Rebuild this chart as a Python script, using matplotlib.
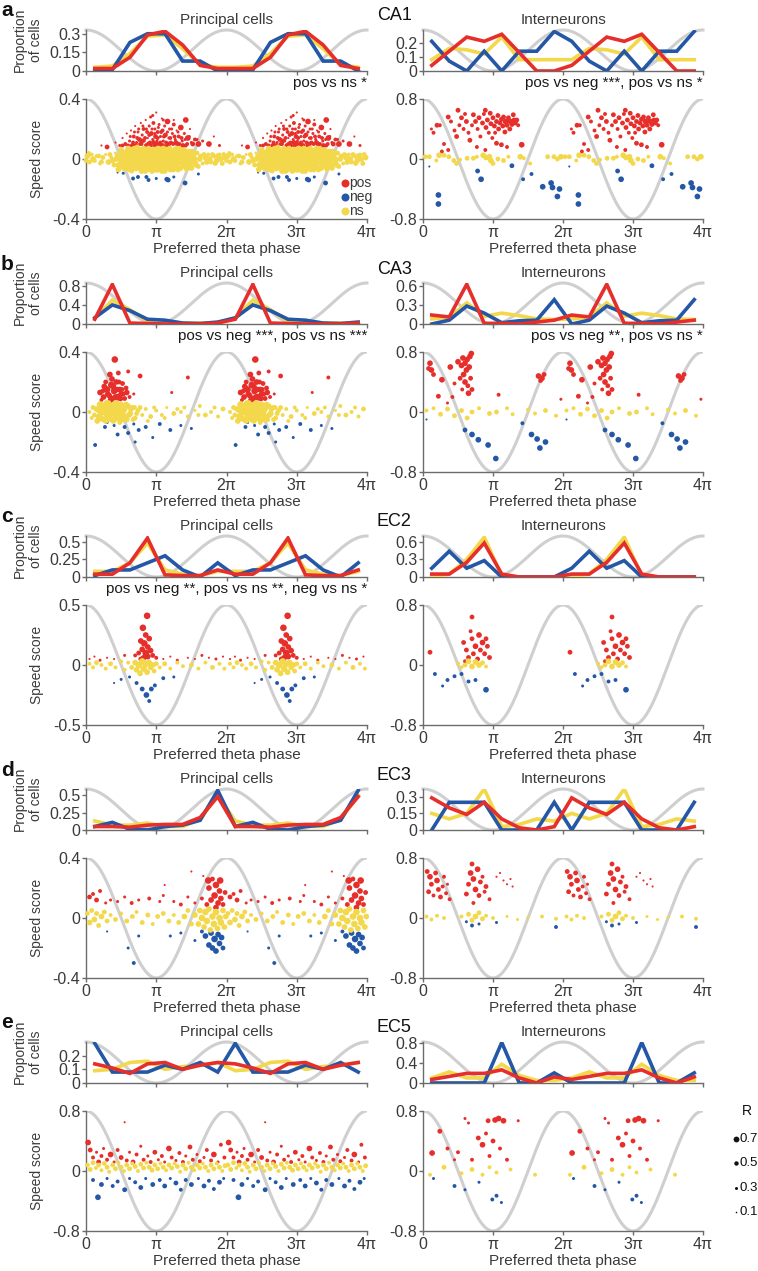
"""Speed score vs preferred theta phase, CA1/CA3/EC2/EC3/EC5, principal cells and interneurons."""

import numpy as np
import matplotlib

matplotlib.use("Agg")
import matplotlib.pyplot as plt

plt.rcParams["font.family"] = ["Liberation Sans", "DejaVu Sans"]

RED = "#e62e2b"
BLUE = "#2457a5"
YELLOW = "#f2d84a"
GRAY = "#cfcfcf"
AXIS = "#6b6b6b"
TEXT = "#3a3a3a"

W, H = 758, 1271
ROW_STEP = 253

# ---- proportion of cells per phase bin (8 bins, pi/4 wide, one theta cycle) ----
CA1_PC_POS = [0.02, 0.02, 0.11, 0.29, 0.32, 0.21, 0.045, 0.02]
CA1_PC_NEG = [0.0, 0.01, 0.23, 0.30, 0.30, 0.08, 0.08, 0.0]
CA1_PC_NS = [0.03, 0.04, 0.14, 0.28, 0.29, 0.18, 0.05, 0.03]
CA1_IN_POS = [0.04, 0.14, 0.24, 0.21, 0.26, 0.13, 0.0, 0.0]
CA1_IN_NEG = [0.21, 0.07, 0.0, 0.14, 0.0, 0.14, 0.14, 0.28]
CA1_IN_NS = [0.08, 0.16, 0.15, 0.12, 0.24, 0.08, 0.08, 0.08]
CA3_PC_POS = [0.1, 0.83, 0.02, 0.01, 0.0, 0.0, 0.0, 0.02]
CA3_PC_NEG = [0.13, 0.4, 0.28, 0.1, 0.08, 0.02, 0.01, 0.04]
CA3_PC_NS = [0.12, 0.5, 0.3, 0.06, 0.04, 0.02, 0.02, 0.03]
CA3_IN_POS = [0.14, 0.11, 0.62, 0.01, 0.01, 0.0, 0.03, 0.06]
CA3_IN_NEG = [0.0, 0.06, 0.28, 0.17, 0.02, 0.05, 0.06, 0.38]
CA3_IN_NS = [0.08, 0.1, 0.33, 0.12, 0.17, 0.13, 0.08, 0.07]
EC2_PC_POS = [0.04, 0.04, 0.2, 0.55, 0.03, 0.02, 0.02, 0.1]
EC2_PC_NEG = [0.02, 0.1, 0.1, 0.2, 0.3, 0.1, 0.0, 0.2]
EC2_PC_NS = [0.08, 0.08, 0.2, 0.48, 0.1, 0.04, 0.02, 0.08]
EC2_IN_POS = [0.05, 0.05, 0.25, 0.58, 0.05, 0.0, 0.0, 0.0]
EC2_IN_NEG = [0.15, 0.44, 0.15, 0.28, 0.0, 0.0, 0.0, 0.0]
EC2_IN_NS = [0.0, 0.05, 0.3, 0.68, 0.02, 0.0, 0.0, 0.0]
EC3_PC_POS = [0.05, 0.05, 0.04, 0.07, 0.08, 0.08, 0.18, 0.48]
EC3_PC_NEG = [0.05, 0.11, 0.01, 0.0, 0.05, 0.07, 0.14, 0.57]
EC3_PC_NS = [0.13, 0.07, 0.07, 0.1, 0.05, 0.05, 0.15, 0.5]
EC3_IN_POS = [0.29, 0.2, 0.14, 0.25, 0.1, 0.02, 0.0, 0.03]
EC3_IN_NEG = [0.0, 0.25, 0.25, 0.25, 0.0, 0.0, 0.0, 0.25]
EC3_IN_NS = [0.15, 0.1, 0.15, 0.37, 0.03, 0.05, 0.1, 0.08]
EC5_PC_POS = [0.14, 0.11, 0.07, 0.14, 0.15, 0.1, 0.13, 0.15]
EC5_PC_NEG = [0.29, 0.08, 0.08, 0.08, 0.13, 0.1, 0.15, 0.08]
EC5_PC_NS = [0.09, 0.1, 0.15, 0.16, 0.1, 0.12, 0.13, 0.15]
EC5_IN_POS = [0.07, 0.13, 0.19, 0.19, 0.26, 0.1, 0.0, 0.12]
EC5_IN_NEG = [0.0, 0.0, 0.0, 0.0, 0.8, 0.0, 0.0, 0.2]
EC5_IN_NS = [0.1, 0.22, 0.1, 0.1, 0.37, 0.15, 0.05, 0.05]

# ---- single cells: (preferred phase / pi, speed score, R), one theta cycle ----
CA1_PC_POS_CELLS = [
    (0.22, 0.09, 0.1), (0.3, 0.08, 0.4), (0.42, 0.11, 0.1), (0.48, 0.09, 0.2), (0.52, 0.14, 0.1),
    (0.52, 0.09, 0.3), (0.56, 0.1, 0.3), (0.58, 0.17, 0.1), (0.6, 0.09, 0.3), (0.62, 0.12, 0.2),
    (0.63, 0.15, 0.2), (0.64, 0.19, 0.1), (0.66, 0.09, 0.4), (0.67, 0.11, 0.3), (0.68, 0.15, 0.3),
    (0.69, 0.18, 0.2), (0.7, 0.22, 0.1), (0.71, 0.09, 0.4), (0.72, 0.11, 0.2), (0.73, 0.14, 0.3),
    (0.74, 0.18, 0.2), (0.75, 0.2, 0.2), (0.76, 0.13, 0.4), (0.77, 0.1, 0.3), (0.78, 0.24, 0.1),
    (0.79, 0.1, 0.3), (0.8, 0.16, 0.2), (0.8, 0.12, 0.4), (0.81, 0.22, 0.2), (0.82, 0.2, 0.3),
    (0.83, 0.12, 0.2), (0.84, 0.14, 0.3), (0.85, 0.26, 0.1), (0.86, 0.09, 0.4), (0.86, 0.2, 0.2),
    (0.87, 0.18, 0.3), (0.88, 0.14, 0.1), (0.89, 0.1, 0.4), (0.9, 0.22, 0.2), (0.9, 0.16, 0.3),
    (0.91, 0.11, 0.3), (0.92, 0.28, 0.2), (0.92, 0.09, 0.3), (0.93, 0.17, 0.4), (0.94, 0.2, 0.2),
    (0.95, 0.13, 0.2), (0.95, 0.29, 0.2), (0.96, 0.24, 0.3), (0.96, 0.11, 0.4), (0.97, 0.09, 0.3),
    (0.98, 0.2, 0.2), (0.98, 0.17, 0.2), (0.99, 0.15, 0.4), (1.0, 0.31, 0.1), (1.0, 0.1, 0.4),
    (1.01, 0.12, 0.2), (1.02, 0.18, 0.3), (1.02, 0.14, 0.3), (1.03, 0.21, 0.2), (1.04, 0.23, 0.2),
    (1.05, 0.1, 0.4), (1.06, 0.15, 0.2), (1.06, 0.11, 0.3), (1.07, 0.18, 0.3), (1.08, 0.27, 0.1),
    (1.09, 0.19, 0.3), (1.09, 0.09, 0.4), (1.1, 0.12, 0.2), (1.1, 0.26, 0.2), (1.11, 0.15, 0.3),
    (1.12, 0.22, 0.2), (1.13, 0.16, 0.4), (1.14, 0.11, 0.3), (1.15, 0.09, 0.3), (1.16, 0.25, 0.5),
    (1.16, 0.18, 0.2), (1.18, 0.14, 0.2), (1.18, 0.1, 0.4), (1.19, 0.2, 0.2), (1.2, 0.14, 0.3),
    (1.21, 0.11, 0.3), (1.22, 0.2, 0.2), (1.23, 0.17, 0.2), (1.24, 0.1, 0.3), (1.25, 0.23, 0.3),
    (1.25, 0.26, 0.1), (1.26, 0.15, 0.3), (1.27, 0.13, 0.2), (1.28, 0.11, 0.4), (1.29, 0.19, 0.1),
    (1.3, 0.1, 0.4), (1.31, 0.18, 0.2), (1.32, 0.15, 0.3), (1.33, 0.1, 0.3), (1.35, 0.21, 0.5),
    (1.36, 0.14, 0.3), (1.37, 0.12, 0.2), (1.38, 0.09, 0.4), (1.4, 0.17, 0.2), (1.41, 0.13, 0.2),
    (1.42, 0.09, 0.3), (1.42, 0.26, 0.5), (1.44, 0.1, 0.3), (1.45, 0.14, 0.5), (1.47, 0.15, 0.2),
    (1.48, 0.2, 0.1), (1.5, 0.11, 0.2), (1.52, 0.1, 0.4), (1.55, 0.13, 0.3), (1.58, 0.13, 0.2),
    (1.6, 0.1, 0.5), (1.66, 0.12, 0.2), (1.75, 0.1, 0.5), (1.82, 0.15, 0.1), (1.9, 0.09, 0.2),
]
CA1_PC_NEG_CELLS = [
    (0.45, -0.09, 0.1), (0.53, -0.095, 0.2), (0.67, -0.13, 0.3), (0.74, -0.12, 0.3), (0.86, -0.12, 0.3),
    (0.89, -0.14, 0.3), (1.0, -0.13, 0.2), (1.15, -0.135, 0.4), (1.17, -0.14, 0.4), (1.25, -0.12, 0.2),
    (1.41, -0.16, 0.4), (1.6, -0.1, 0.2),
]
CA1_PC_NS_CELLS = [
    (0.0, -0.01, 0.4), (0.02, 0.02, 0.5), (0.04, 0.04, 0.3), (0.05, -0.02, 0.4), (0.08, 0.03, 0.3),
    (0.1, 0.0, 0.5), (0.12, -0.01, 0.4), (0.15, 0.02, 0.3), (0.18, 0.02, 0.4), (0.2, -0.03, 0.3),
    (0.22, -0.02, 0.4), (0.24, 0.01, 0.4), (0.28, 0.03, 0.2), (0.32, -0.02, 0.5), (0.34, 0.03, 0.4),
    (0.36, 0.01, 0.3), (0.38, -0.01, 0.5), (0.4, -0.04, 0.4), (0.42, 0.04, 0.2), (0.43, 0.0, 0.5),
    (0.45, 0.02, 0.5), (0.46, -0.07, 0.5), (0.47, -0.04, 0.6), (0.49, 0.0, 0.6), (0.5, 0.06, 0.5),
    (0.51, 0.04, 0.6), (0.52, -0.01, 0.7), (0.53, -0.05, 0.6), (0.54, 0.04, 0.5), (0.55, -0.06, 0.6),
    (0.56, 0.03, 0.6), (0.57, -0.02, 0.6), (0.58, 0.01, 0.7), (0.59, 0.05, 0.6), (0.6, 0.07, 0.5),
    (0.61, -0.04, 0.6), (0.62, -0.07, 0.5), (0.63, 0.03, 0.7), (0.64, 0.0, 0.7), (0.65, -0.08, 0.4),
    (0.66, 0.06, 0.6), (0.67, 0.02, 0.6), (0.68, -0.02, 0.7), (0.69, 0.07, 0.5), (0.69, -0.05, 0.6),
    (0.7, 0.04, 0.6), (0.71, -0.06, 0.6), (0.72, 0.02, 0.7), (0.73, 0.08, 0.4), (0.74, 0.0, 0.7),
    (0.75, 0.06, 0.6), (0.76, -0.04, 0.6), (0.77, -0.01, 0.7), (0.78, 0.05, 0.6), (0.78, -0.06, 0.6),
    (0.79, -0.08, 0.5), (0.8, 0.02, 0.7), (0.81, -0.04, 0.7), (0.82, 0.07, 0.5), (0.83, -0.03, 0.7),
    (0.84, 0.01, 0.7), (0.84, -0.08, 0.5), (0.85, 0.04, 0.6), (0.86, -0.07, 0.6), (0.87, 0.05, 0.6),
    (0.88, 0.0, 0.7), (0.89, 0.07, 0.5), (0.9, -0.02, 0.7), (0.91, -0.04, 0.7), (0.92, 0.04, 0.6),
    (0.93, 0.02, 0.7), (0.93, -0.06, 0.6), (0.94, -0.08, 0.5), (0.95, 0.01, 0.7), (0.96, -0.01, 0.7),
    (0.97, 0.06, 0.6), (0.98, -0.03, 0.7), (0.99, 0.05, 0.6), (0.99, -0.06, 0.6), (1.0, 0.03, 0.7),
    (1.01, -0.07, 0.6), (1.02, 0.01, 0.7), (1.03, 0.07, 0.5), (1.04, -0.01, 0.7), (1.05, 0.06, 0.6),
    (1.05, -0.04, 0.7), (1.06, 0.04, 0.6), (1.07, -0.05, 0.7), (1.08, 0.02, 0.7), (1.08, -0.08, 0.5),
    (1.09, 0.01, 0.7), (1.1, 0.07, 0.5), (1.11, -0.01, 0.7), (1.12, -0.08, 0.5), (1.13, -0.02, 0.7),
    (1.14, 0.06, 0.6), (1.14, -0.06, 0.6), (1.15, 0.04, 0.7), (1.16, -0.05, 0.6), (1.17, 0.02, 0.7),
    (1.18, 0.01, 0.7), (1.19, 0.07, 0.5), (1.2, -0.07, 0.5), (1.2, 0.05, 0.6), (1.21, -0.03, 0.7),
    (1.22, 0.04, 0.6), (1.23, 0.0, 0.7), (1.24, -0.07, 0.5), (1.25, 0.0, 0.7), (1.26, 0.03, 0.7),
    (1.26, -0.05, 0.6), (1.27, 0.06, 0.6), (1.28, -0.04, 0.6), (1.29, 0.07, 0.5), (1.29, -0.01, 0.7),
    (1.3, 0.03, 0.7), (1.31, -0.07, 0.5), (1.32, -0.01, 0.6), (1.33, 0.07, 0.4), (1.34, 0.04, 0.7),
    (1.35, -0.06, 0.5), (1.36, -0.02, 0.7), (1.37, 0.02, 0.7), (1.38, 0.06, 0.5), (1.39, -0.03, 0.6),
    (1.4, 0.0, 0.7), (1.41, 0.05, 0.6), (1.42, -0.05, 0.5), (1.43, -0.07, 0.4), (1.44, 0.03, 0.6),
    (1.45, 0.0, 0.6), (1.46, -0.02, 0.6), (1.47, 0.05, 0.5), (1.48, 0.01, 0.6), (1.49, -0.04, 0.5),
    (1.5, -0.06, 0.5), (1.51, 0.05, 0.5), (1.52, 0.02, 0.6), (1.54, 0.0, 0.6), (1.55, -0.02, 0.5),
    (1.57, -0.04, 0.5), (1.58, 0.04, 0.4), (1.6, -0.05, 0.4), (1.62, 0.0, 0.5), (1.63, 0.02, 0.4),
    (1.66, -0.03, 0.3), (1.68, 0.03, 0.4), (1.7, 0.01, 0.5), (1.72, -0.02, 0.5), (1.74, 0.03, 0.3),
    (1.76, 0.0, 0.5), (1.78, -0.02, 0.4), (1.8, 0.03, 0.4), (1.82, 0.02, 0.4), (1.84, -0.03, 0.4),
    (1.86, -0.01, 0.5), (1.88, 0.02, 0.5), (1.9, 0.03, 0.3), (1.92, 0.0, 0.5), (1.94, -0.03, 0.4),
    (1.96, 0.03, 0.4), (1.98, 0.01, 0.5),
]
CA1_IN_POS_CELLS = [
    (0.12, 0.4, 0.2), (0.15, 0.35, 0.3), (0.2, 0.45, 0.4), (0.24, 0.45, 0.3), (0.27, 0.1, 0.3),
    (0.3, 0.2, 0.3), (0.36, 0.12, 0.3), (0.36, 0.56, 0.4), (0.4, 0.5, 0.3), (0.45, 0.38, 0.3),
    (0.48, 0.3, 0.4), (0.5, 0.65, 0.4), (0.52, 0.45, 0.3), (0.55, 0.55, 0.4), (0.58, 0.4, 0.3),
    (0.6, 0.6, 0.3), (0.62, 0.5, 0.4), (0.65, 0.35, 0.3), (0.67, 0.25, 0.4), (0.7, 0.45, 0.3),
    (0.72, 0.59, 0.4), (0.75, 0.5, 0.4), (0.77, 0.16, 0.3), (0.78, 0.4, 0.3), (0.8, 0.55, 0.4),
    (0.82, 0.3, 0.3), (0.85, 0.48, 0.4), (0.87, 0.6, 0.3), (0.89, 0.12, 0.3), (0.89, 0.65, 0.4),
    (0.9, 0.42, 0.4), (0.92, 0.52, 0.4), (0.94, 0.35, 0.3), (0.96, 0.61, 0.4), (0.97, 0.47, 0.4),
    (0.99, 0.28, 0.3), (1.0, 0.55, 0.4), (1.02, 0.44, 0.4), (1.03, 0.35, 0.3), (1.05, 0.21, 0.4),
    (1.05, 0.5, 0.4), (1.07, 0.58, 0.4), (1.08, 0.4, 0.4), (1.1, 0.48, 0.4), (1.12, 0.19, 0.4),
    (1.12, 0.53, 0.4), (1.14, 0.44, 0.4), (1.15, 0.56, 0.4), (1.17, 0.36, 0.4), (1.18, 0.5, 0.5),
    (1.2, 0.16, 0.3), (1.2, 0.45, 0.4), (1.22, 0.55, 0.4), (1.24, 0.4, 0.4), (1.25, 0.5, 0.5),
    (1.27, 0.46, 0.4), (1.29, 0.59, 0.4), (1.3, 0.52, 0.4), (1.32, 0.48, 0.4), (1.34, 0.52, 0.4),
    (1.36, 0.45, 0.3), (1.41, 0.19, 0.5),
]
CA1_IN_NEG_CELLS = [
    (0.09, -0.1, 0.1), (0.22, -0.48, 0.5), (0.22, -0.6, 0.5), (0.78, -0.16, 0.4), (0.83, -0.27, 0.5),
    (1.27, -0.09, 0.4), (1.43, -0.27, 0.3), (1.55, -0.2, 0.3), (1.71, -0.37, 0.5), (1.83, -0.32, 0.5),
    (1.85, -0.38, 0.5), (1.95, -0.4, 0.5), (1.92, -0.5, 0.5),
]
CA1_IN_NS_CELLS = [
    (0.03, 0.03, 0.4), (0.09, 0.03, 0.4), (0.19, -0.02, 0.3), (0.23, 0.05, 0.5), (0.3, 0.05, 0.4),
    (0.37, 0.03, 0.4), (0.44, -0.02, 0.4), (0.48, -0.06, 0.4), (0.53, -0.01, 0.3), (0.63, 0.01, 0.4),
    (0.72, 0.01, 0.4), (0.77, 0.03, 0.3), (0.86, 0.05, 0.5), (0.9, 0.02, 0.5), (0.95, 0.03, 0.5),
    (0.97, -0.02, 0.5), (1.0, -0.06, 0.4), (1.07, 0.0, 0.4), (1.15, -0.02, 0.4), (1.22, 0.03, 0.3),
    (1.39, 0.03, 0.5), (1.44, 0.01, 0.3), (1.53, -0.06, 0.3), (1.78, 0.03, 0.4), (1.87, 0.03, 0.4),
    (1.92, 0.0, 0.4), (1.97, 0.03, 0.5),
]
CA3_PC_POS_CELLS = [
    (0.2, 0.13, 0.5), (0.22, 0.08, 0.3), (0.24, 0.14, 0.4), (0.25, 0.1, 0.5), (0.26, 0.17, 0.5),
    (0.28, 0.2, 0.4), (0.3, 0.15, 0.6), (0.31, 0.12, 0.5), (0.33, 0.11, 0.5), (0.34, 0.25, 0.5),
    (0.35, 0.08, 0.5), (0.36, 0.18, 0.6), (0.37, 0.22, 0.5), (0.38, 0.09, 0.5), (0.39, 0.17, 0.5),
    (0.4, 0.14, 0.6), (0.41, 0.35, 0.6), (0.42, 0.1, 0.5), (0.43, 0.2, 0.5), (0.44, 0.15, 0.5),
    (0.45, 0.1, 0.6), (0.46, 0.26, 0.4), (0.47, 0.2, 0.4), (0.48, 0.15, 0.5), (0.49, 0.09, 0.5),
    (0.5, 0.12, 0.5), (0.51, 0.15, 0.4), (0.52, 0.19, 0.4), (0.53, 0.12, 0.4), (0.55, 0.09, 0.4),
    (0.57, 0.16, 0.4), (0.58, 0.13, 0.5), (0.6, 0.27, 0.3), (0.62, 0.1, 0.3), (0.68, 0.12, 0.2),
    (0.77, 0.24, 0.4), (1.22, 0.13, 0.2), (1.45, 0.23, 0.3),
]
CA3_PC_NEG_CELLS = [
    (0.13, -0.22, 0.3), (0.27, -0.1, 0.3), (0.3, -0.07, 0.2), (0.4, -0.09, 0.2), (0.45, -0.15, 0.3),
    (0.55, -0.1, 0.3), (0.6, -0.14, 0.3), (0.68, -0.08, 0.2), (0.7, -0.2, 0.2), (0.75, -0.12, 0.3),
    (0.85, -0.1, 0.3), (0.95, -0.17, 0.2), (1.05, -0.08, 0.3), (1.2, -0.12, 0.3), (1.35, -0.09, 0.2),
    (1.5, -0.11, 0.2),
]
CA3_PC_NS_CELLS = [
    (0.05, 0.0, 0.3), (0.08, -0.04, 0.3), (0.1, 0.03, 0.4), (0.12, -0.02, 0.4), (0.15, 0.02, 0.5),
    (0.16, -0.06, 0.5), (0.18, -0.03, 0.5), (0.19, 0.01, 0.6), (0.2, 0.05, 0.6), (0.21, -0.04, 0.6),
    (0.22, 0.0, 0.6), (0.23, 0.04, 0.6), (0.25, -0.05, 0.5), (0.26, 0.0, 0.6), (0.27, 0.03, 0.6),
    (0.28, -0.06, 0.5), (0.29, 0.06, 0.5), (0.3, -0.02, 0.6), (0.31, 0.02, 0.6), (0.32, 0.06, 0.5),
    (0.33, -0.04, 0.6), (0.34, 0.01, 0.6), (0.35, 0.04, 0.6), (0.36, -0.05, 0.5), (0.37, -0.01, 0.6),
    (0.38, 0.04, 0.6), (0.39, -0.06, 0.5), (0.4, -0.01, 0.6), (0.41, 0.02, 0.6), (0.42, 0.06, 0.5),
    (0.43, -0.03, 0.6), (0.44, -0.04, 0.6), (0.45, 0.05, 0.5), (0.46, 0.02, 0.6), (0.47, -0.01, 0.6),
    (0.48, -0.07, 0.4), (0.49, 0.03, 0.6), (0.5, 0.05, 0.5), (0.51, -0.05, 0.5), (0.52, -0.02, 0.6),
    (0.53, 0.01, 0.6), (0.55, 0.02, 0.5), (0.56, -0.03, 0.5), (0.57, 0.05, 0.5), (0.58, -0.05, 0.5),
    (0.6, 0.04, 0.5), (0.61, -0.02, 0.5), (0.63, -0.01, 0.5), (0.64, 0.02, 0.5), (0.66, 0.03, 0.4),
    (0.67, -0.05, 0.4), (0.69, 0.03, 0.4), (0.7, -0.04, 0.4), (0.72, -0.01, 0.4), (0.74, 0.01, 0.4),
    (0.77, 0.03, 0.4), (0.8, -0.02, 0.3), (0.85, 0.02, 0.3), (0.88, -0.06, 0.3), (0.92, -0.03, 0.4),
    (0.97, 0.03, 0.3), (1.0, 0.01, 0.3), (1.08, -0.02, 0.3), (1.12, -0.04, 0.3), (1.15, 0.03, 0.2),
    (1.25, -0.01, 0.4), (1.3, 0.02, 0.3), (1.35, 0.0, 0.3), (1.4, 0.03, 0.3), (1.45, -0.03, 0.3),
    (1.55, 0.01, 0.2), (1.6, -0.02, 0.3), (1.62, 0.04, 0.3), (1.7, -0.02, 0.4), (1.78, 0.0, 0.3),
    (1.83, 0.03, 0.3), (1.88, -0.03, 0.3), (1.95, 0.02, 0.4),
]
CA3_IN_POS_CELLS = [
    (0.08, 0.58, 0.4), (0.1, 0.65, 0.5), (0.12, 0.56, 0.5), (0.15, 0.5, 0.4), (0.22, 0.21, 0.4),
    (0.27, 0.43, 0.5), (0.35, 0.12, 0.2), (0.39, 0.6, 0.5), (0.42, 0.2, 0.3), (0.45, 0.38, 0.3),
    (0.5, 0.67, 0.5), (0.53, 0.45, 0.4), (0.55, 0.62, 0.5), (0.56, 0.3, 0.3), (0.57, 0.72, 0.5),
    (0.58, 0.5, 0.5), (0.6, 0.65, 0.5), (0.6, 0.4, 0.5), (0.62, 0.56, 0.5), (0.63, 0.7, 0.5),
    (0.64, 0.35, 0.4), (0.65, 0.25, 0.5), (0.66, 0.6, 0.5), (0.67, 0.74, 0.5), (0.68, 0.45, 0.4),
    (0.69, 0.78, 0.5), (0.7, 0.3, 0.4), (1.08, 0.23, 0.3), (1.65, 0.48, 0.5), (1.68, 0.42, 0.4),
    (1.7, 0.45, 0.5), (1.73, 0.5, 0.4), (1.97, 0.17, 0.2),
]
CA3_IN_NEG_CELLS = [
    (0.05, -0.1, 0.1), (0.6, -0.24, 0.4), (0.7, -0.3, 0.5), (0.79, -0.37, 0.5), (0.93, -0.44, 0.5),
    (1.04, -0.62, 0.5), (1.42, -0.15, 0.3), (1.55, -0.3, 0.5), (1.63, -0.36, 0.5), (1.67, -0.48, 0.5),
    (1.75, -0.4, 0.5),
]
CA3_IN_NS_CELLS = [
    (0.05, 0.02, 0.3), (0.15, 0.05, 0.3), (0.25, -0.03, 0.4), (0.35, 0.04, 0.4), (0.45, -0.05, 0.4),
    (0.55, 0.02, 0.4), (0.63, -0.08, 0.4), (0.7, 0.0, 0.4), (0.8, 0.05, 0.3), (0.95, -0.02, 0.4),
    (1.05, 0.0, 0.4), (1.2, 0.05, 0.3), (1.28, -0.03, 0.3), (1.5, 0.03, 0.3), (1.6, -0.02, 0.3),
    (1.75, 0.02, 0.4), (1.9, -0.05, 0.3),
]
EC2_PC_POS_CELLS = [
    (0.05, 0.05, 0.1), (0.12, 0.07, 0.1), (0.2, 0.04, 0.2), (0.3, 0.06, 0.1), (0.4, 0.05, 0.1),
    (0.55, 0.08, 0.2), (0.7, 0.08, 0.3), (0.75, 0.1, 0.4), (0.78, 0.2, 0.5), (0.78, 0.05, 0.4),
    (0.8, 0.13, 0.5), (0.81, 0.31, 0.6), (0.82, 0.06, 0.5), (0.83, 0.18, 0.6), (0.85, 0.25, 0.5),
    (0.85, 0.1, 0.6), (0.87, 0.41, 0.6), (0.88, 0.15, 0.5), (0.88, 0.07, 0.5), (0.9, 0.22, 0.5),
    (0.92, 0.12, 0.5), (0.95, 0.08, 0.4), (1.0, 0.06, 0.3), (1.1, 0.05, 0.1), (1.2, 0.07, 0.1),
    (1.3, 0.04, 0.2), (1.45, 0.06, 0.1), (1.55, 0.05, 0.1), (1.65, 0.08, 0.2), (1.75, 0.06, 0.1),
    (1.85, 0.05, 0.2), (1.95, 0.07, 0.1),
]
EC2_PC_NEG_CELLS = [
    (0.4, -0.15, 0.1), (0.5, -0.12, 0.2), (0.62, -0.1, 0.2), (0.72, -0.15, 0.3), (0.8, -0.2, 0.4),
    (0.86, -0.25, 0.5), (0.9, -0.3, 0.3), (0.93, -0.2, 0.4), (0.98, -0.17, 0.3), (1.1, -0.11, 0.3),
    (1.25, -0.1, 0.2),
]
EC2_PC_NS_CELLS = [
    (0.05, 0.01, 0.3), (0.1, -0.02, 0.3), (0.15, 0.02, 0.4), (0.22, 0.0, 0.3), (0.28, -0.03, 0.3),
    (0.35, 0.01, 0.4), (0.42, -0.02, 0.3), (0.5, 0.03, 0.3), (0.55, -0.04, 0.3), (0.6, 0.02, 0.3),
    (0.65, -0.02, 0.4), (0.7, 0.02, 0.5), (0.72, -0.04, 0.5), (0.75, 0.0, 0.6), (0.77, -0.07, 0.5),
    (0.8, 0.03, 0.6), (0.82, -0.03, 0.6), (0.85, 0.01, 0.6), (0.87, -0.06, 0.5), (0.9, 0.02, 0.5),
    (0.92, -0.02, 0.5), (0.95, 0.0, 0.5), (0.97, -0.05, 0.4), (1.0, 0.01, 0.4), (1.05, -0.02, 0.3),
    (1.12, 0.01, 0.4), (1.2, -0.03, 0.3), (1.3, 0.02, 0.3), (1.38, -0.01, 0.3), (1.5, 0.0, 0.4),
    (1.6, -0.03, 0.3), (1.7, 0.02, 0.3), (1.8, -0.02, 0.4), (1.9, 0.01, 0.3), (1.97, -0.03, 0.3),
]
EC2_IN_POS_CELLS = [
    (0.1, 0.17, 0.4), (0.58, 0.3, 0.4), (0.6, 0.05, 0.3), (0.62, 0.2, 0.4), (0.65, 0.1, 0.4),
    (0.68, 0.45, 0.3), (0.7, 0.64, 0.4), (0.7, 0.35, 0.4), (0.72, 0.15, 0.4), (0.75, 0.25, 0.5),
    (0.78, 0.08, 0.4), (0.8, 0.4, 0.5), (0.82, 0.2, 0.4), (0.85, 0.3, 0.5), (0.88, 0.15, 0.4),
    (0.9, 0.35, 0.4), (0.92, 0.25, 0.4), (0.95, 0.1, 0.4),
]
EC2_IN_NEG_CELLS = [
    (0.17, -0.12, 0.3), (0.28, -0.28, 0.2), (0.35, -0.2, 0.3), (0.45, -0.15, 0.3), (0.55, -0.12, 0.3),
    (0.65, -0.22, 0.3), (0.75, -0.2, 0.3), (0.9, -0.33, 0.5),
]
EC2_IN_NS_CELLS = [
    (0.5, 0.02, 0.3), (0.55, -0.03, 0.3), (0.6, 0.0, 0.4), (0.65, 0.05, 0.5), (0.7, -0.02, 0.5),
    (0.75, 0.04, 0.5), (0.8, 0.0, 0.5), (0.85, 0.03, 0.4), (0.9, -0.02, 0.3),
]
EC3_PC_POS_CELLS = [
    (0.05, 0.14, 0.4), (0.1, 0.16, 0.3), (0.15, 0.12, 0.4), (0.2, 0.18, 0.3), (0.28, 0.1, 0.2),
    (0.35, 0.12, 0.2), (0.45, 0.11, 0.2), (0.55, 0.14, 0.2), (0.65, 0.1, 0.3), (0.75, 0.12, 0.2),
    (0.9, 0.13, 0.3), (1.05, 0.11, 0.2), (1.1, 0.15, 0.2), (1.12, 0.22, 0.1), (1.25, 0.11, 0.2),
    (1.35, 0.09, 0.3), (1.45, 0.14, 0.2), (1.5, 0.31, 0.1), (1.55, 0.1, 0.2), (1.65, 0.13, 0.3),
    (1.67, 0.28, 0.1), (1.72, 0.09, 0.4), (1.74, 0.25, 0.6), (1.75, 0.2, 0.5), (1.78, 0.12, 0.5),
    (1.8, 0.26, 0.4), (1.83, 0.15, 0.6), (1.85, 0.22, 0.6), (1.85, 0.07, 0.5), (1.88, 0.1, 0.5),
    (1.9, 0.18, 0.5), (1.91, 0.25, 0.6), (1.92, 0.13, 0.5), (1.95, 0.09, 0.4), (1.98, 0.17, 0.4),
]
EC3_PC_NEG_CELLS = [
    (0.3, -0.09, 0.1), (0.6, -0.2, 0.2), (0.68, -0.3, 0.3), (0.75, -0.12, 0.2), (1.2, -0.12, 0.2),
    (1.35, -0.1, 0.2), (1.55, -0.15, 0.2), (1.65, -0.09, 0.3), (1.7, -0.12, 0.5), (1.75, -0.18, 0.5),
    (1.78, -0.1, 0.5), (1.8, -0.2, 0.5), (1.83, -0.14, 0.6), (1.85, -0.22, 0.5), (1.88, -0.11, 0.5),
    (1.9, -0.17, 0.5), (1.93, -0.13, 0.5), (1.95, -0.2, 0.4),
]
EC3_PC_NS_CELLS = [
    (0.02, 0.03, 0.4), (0.05, -0.03, 0.5), (0.08, 0.05, 0.4), (0.12, -0.01, 0.5), (0.15, 0.03, 0.4),
    (0.18, -0.05, 0.4), (0.22, 0.01, 0.5), (0.26, 0.04, 0.4), (0.3, -0.02, 0.4), (0.35, 0.02, 0.3),
    (0.42, -0.01, 0.4), (0.5, 0.03, 0.3), (0.58, -0.02, 0.4), (0.66, 0.01, 0.4), (0.72, 0.04, 0.3),
    (0.8, -0.03, 0.4), (0.88, 0.02, 0.4), (0.95, -0.04, 0.3), (1.02, 0.01, 0.4), (1.1, 0.03, 0.4),
    (1.18, -0.02, 0.4), (1.25, 0.02, 0.3), (1.32, -0.03, 0.4), (1.4, 0.01, 0.5), (1.45, 0.05, 0.4),
    (1.5, -0.04, 0.4), (1.55, 0.02, 0.5), (1.6, -0.04, 0.5), (1.62, 0.05, 0.5), (1.65, 0.0, 0.6),
    (1.68, -0.06, 0.5), (1.7, 0.04, 0.6), (1.72, -0.02, 0.6), (1.75, 0.06, 0.5), (1.77, -0.08, 0.5),
    (1.8, 0.01, 0.6), (1.82, -0.04, 0.6), (1.85, 0.04, 0.6), (1.87, -0.07, 0.5), (1.9, 0.0, 0.6),
    (1.92, -0.03, 0.6), (1.95, 0.05, 0.5), (1.97, -0.06, 0.5), (1.99, 0.01, 0.5),
]
EC3_IN_POS_CELLS = [
    (0.06, 0.62, 0.4), (0.08, 0.35, 0.4), (0.1, 0.55, 0.5), (0.12, 0.45, 0.4), (0.15, 0.3, 0.3),
    (0.18, 0.6, 0.4), (0.2, 0.5, 0.5), (0.22, 0.38, 0.4), (0.25, 0.28, 0.4), (0.28, 0.42, 0.3),
    (0.3, 0.55, 0.3), (0.33, 0.33, 0.3), (0.35, 0.45, 0.2), (0.38, 0.25, 0.3), (0.62, 0.32, 0.4),
    (0.65, 0.45, 0.4), (0.68, 0.6, 0.5), (0.7, 0.72, 0.4), (0.72, 0.52, 0.5), (0.72, 0.2, 0.3),
    (0.75, 0.38, 0.5), (0.78, 0.65, 0.5), (0.8, 0.3, 0.4), (0.82, 0.48, 0.4), (0.85, 0.55, 0.3),
    (0.88, 0.35, 0.3), (0.9, 0.42, 0.4), (0.95, 0.25, 0.3), (1.05, 0.55, 0.1), (1.1, 0.6, 0.1),
    (1.15, 0.5, 0.1), (1.2, 0.45, 0.1), (1.25, 0.52, 0.1), (1.28, 0.42, 0.1),
]
EC3_IN_NEG_CELLS = [
    (0.62, -0.05, 0.2), (0.7, -0.1, 0.3), (0.8, -0.08, 0.2), (1.05, -0.06, 0.2), (1.9, -0.12, 0.3),
]
EC3_IN_NS_CELLS = [
    (0.05, 0.02, 0.3), (0.12, -0.02, 0.3), (0.2, 0.03, 0.3), (0.3, 0.0, 0.3), (0.55, 0.02, 0.3),
    (0.65, 0.05, 0.4), (0.7, -0.03, 0.4), (0.75, 0.02, 0.5), (0.8, 0.07, 0.4), (0.85, -0.01, 0.4),
    (0.9, 0.03, 0.3), (1.0, 0.0, 0.3), (1.2, 0.02, 0.2), (1.35, -0.02, 0.2), (1.5, 0.01, 0.2),
    (1.7, 0.02, 0.3), (1.9, -0.01, 0.3),
]
EC5_PC_POS_CELLS = [
    (0.03, 0.38, 0.5), (0.06, 0.28, 0.4), (0.1, 0.18, 0.3), (0.15, 0.25, 0.2), (0.18, 0.12, 0.4),
    (0.22, 0.2, 0.3), (0.25, 0.3, 0.2), (0.3, 0.15, 0.3), (0.35, 0.22, 0.5), (0.4, 0.12, 0.2),
    (0.45, 0.28, 0.3), (0.5, 0.18, 0.4), (0.55, 0.65, 0.1), (0.58, 0.14, 0.3), (0.62, 0.25, 0.2),
    (0.67, 0.12, 0.4), (0.72, 0.22, 0.3), (0.78, 0.33, 0.2), (0.82, 0.15, 0.3), (0.88, 0.2, 0.2),
    (0.92, 0.12, 0.3), (0.98, 0.25, 0.4), (1.03, 0.15, 0.2), (1.08, 0.2, 0.3), (1.12, 0.12, 0.2),
    (1.18, 0.3, 0.5), (1.22, 0.18, 0.3), (1.28, 0.14, 0.2), (1.33, 0.24, 0.3), (1.38, 0.12, 0.3),
    (1.42, 0.2, 0.2), (1.48, 0.32, 0.4), (1.52, 0.15, 0.3), (1.58, 0.22, 0.2), (1.62, 0.13, 0.3),
    (1.68, 0.18, 0.2), (1.72, 0.28, 0.3), (1.78, 0.14, 0.3), (1.82, 0.22, 0.5), (1.88, 0.12, 0.2),
    (1.92, 0.35, 0.3), (1.97, 0.18, 0.3),
]
EC5_PC_NEG_CELLS = [
    (0.1, -0.12, 0.3), (0.17, -0.35, 0.5), (0.22, -0.18, 0.4), (0.3, -0.1, 0.2), (0.38, -0.2, 0.3),
    (0.45, -0.14, 0.3), (0.55, -0.25, 0.4), (0.62, -0.1, 0.2), (0.7, -0.15, 0.3), (0.78, -0.22, 0.4),
    (0.85, -0.1, 0.2), (0.95, -0.18, 0.4), (1.05, -0.12, 0.3), (1.12, -0.2, 0.4), (1.2, -0.1, 0.2),
    (1.28, -0.16, 0.4), (1.35, -0.25, 0.3), (1.42, -0.12, 0.3), (1.5, -0.18, 0.4), (1.6, -0.1, 0.2),
    (1.68, -0.2, 0.4), (1.75, -0.13, 0.3), (1.82, -0.24, 0.3), (1.9, -0.15, 0.4), (1.96, -0.1, 0.2),
]
EC5_PC_NS_CELLS = [
    (0.02, 0.08, 0.4), (0.06, 0.02, 0.4), (0.1, 0.11, 0.4), (0.14, 0.04, 0.3), (0.18, 0.08, 0.4),
    (0.22, 0.01, 0.3), (0.26, 0.1, 0.4), (0.3, 0.05, 0.4), (0.33, -0.01, 0.3), (0.38, 0.08, 0.4),
    (0.42, 0.03, 0.4), (0.46, 0.11, 0.3), (0.5, 0.05, 0.4), (0.54, 0.0, 0.3), (0.58, 0.08, 0.4),
    (0.62, 0.03, 0.4), (0.66, 0.1, 0.3), (0.7, 0.06, 0.4), (0.74, 0.0, 0.3), (0.78, 0.09, 0.4),
    (0.82, 0.04, 0.4), (0.86, 0.11, 0.3), (0.9, 0.05, 0.4), (0.94, 0.01, 0.4), (0.98, 0.08, 0.4),
    (1.02, 0.03, 0.4), (1.06, 0.1, 0.3), (1.1, 0.05, 0.4), (1.14, 0.01, 0.3), (1.18, 0.08, 0.4),
    (1.22, 0.04, 0.4), (1.26, 0.1, 0.3), (1.3, 0.06, 0.4), (1.34, -0.01, 0.3), (1.38, 0.08, 0.4),
    (1.42, 0.03, 0.4), (1.46, 0.11, 0.3), (1.5, 0.05, 0.4), (1.54, 0.01, 0.3), (1.58, 0.08, 0.4),
    (1.62, 0.04, 0.4), (1.66, 0.1, 0.3), (1.7, 0.05, 0.4), (1.74, 0.0, 0.3), (1.78, 0.08, 0.4),
    (1.82, 0.03, 0.4), (1.86, 0.1, 0.3), (1.9, 0.05, 0.4), (1.94, 0.0, 0.3), (1.98, 0.07, 0.4),
]
EC5_IN_POS_CELLS = [
    (0.13, 0.24, 0.5), (0.24, 0.53, 0.4), (0.35, 0.3, 0.3), (0.45, 0.15, 0.2), (0.5, 0.25, 0.3),
    (0.6, 0.7, 0.2), (0.65, 0.64, 0.2), (0.7, 0.15, 0.3), (0.79, 0.44, 0.4), (0.85, 0.35, 0.5),
    (0.9, 0.5, 0.3), (0.93, 0.67, 0.4), (0.95, 0.2, 0.3), (1.0, 0.4, 0.4), (1.03, 0.68, 0.5),
    (1.08, 0.7, 0.5), (1.1, 0.3, 0.3), (1.15, 0.67, 0.5), (1.2, 0.15, 0.3), (1.36, 0.67, 0.2),
]
EC5_IN_NEG_CELLS = [
    (0.15, -0.1, 0.2), (0.45, -0.2, 0.3), (0.6, -0.25, 0.2), (0.8, -0.15, 0.2), (0.99, -0.38, 0.3),
    (1.05, -0.33, 0.3), (1.12, -0.42, 0.2),
]
EC5_IN_NS_CELLS = [
    (0.1, -0.05, 0.3), (0.3, 0.05, 0.4), (0.55, -0.03, 0.3), (0.7, 0.02, 0.4), (0.85, -0.05, 0.3),
    (0.95, 0.05, 0.3), (1.05, -0.02, 0.3), (1.25, 0.02, 0.3), (1.6, -0.05, 0.3),
]

REGIONS = ["CA1", "CA3", "EC2", "EC3", "EC5"]
LETTERS = ["a", "b", "c", "d", "e"]

PC_PROP_TOP = [0.33, 0.86, 0.58, 0.59, 0.30]
IN_PROP_TOP = [0.29, 0.64, 0.70, 0.37, 0.81]
PC_PROP_TICKS = [["0", "0.15", "0.3"], ["0", "0.4", "0.8"], ["0", "0.25", "0.5"], ["0", "0.25", "0.5"], ["0", "0.1", "0.2"]]
IN_PROP_TICKS = [["0", "0.1", "0.2"], ["0", "0.3", "0.6"], ["0", "0.3", "0.6"], ["0", "0.15", "0.3"], ["0", "0.4", "0.8"]]
PC_SCORE_LIM = [0.4, 0.4, 0.5, 0.4, 0.8]
IN_SCORE_LIM = [0.8, 0.8, 0.8, 0.8, 0.8]
PC_STATS = ["pos vs ns *", "pos vs neg ***, pos vs ns ***", "pos vs neg **, pos vs ns **, neg vs ns *", "", ""]
IN_STATS = ["pos vs neg ***, pos vs ns *", "pos vs neg **, pos vs ns *", "", "", ""]

PC_PROPS = [
    (CA1_PC_POS, CA1_PC_NEG, CA1_PC_NS), (CA3_PC_POS, CA3_PC_NEG, CA3_PC_NS),
    (EC2_PC_POS, EC2_PC_NEG, EC2_PC_NS), (EC3_PC_POS, EC3_PC_NEG, EC3_PC_NS),
    (EC5_PC_POS, EC5_PC_NEG, EC5_PC_NS),
]
IN_PROPS = [
    (CA1_IN_POS, CA1_IN_NEG, CA1_IN_NS), (CA3_IN_POS, CA3_IN_NEG, CA3_IN_NS),
    (EC2_IN_POS, EC2_IN_NEG, EC2_IN_NS), (EC3_IN_POS, EC3_IN_NEG, EC3_IN_NS),
    (EC5_IN_POS, EC5_IN_NEG, EC5_IN_NS),
]
PC_CELLS = [
    (CA1_PC_POS_CELLS, CA1_PC_NEG_CELLS, CA1_PC_NS_CELLS), (CA3_PC_POS_CELLS, CA3_PC_NEG_CELLS, CA3_PC_NS_CELLS),
    (EC2_PC_POS_CELLS, EC2_PC_NEG_CELLS, EC2_PC_NS_CELLS), (EC3_PC_POS_CELLS, EC3_PC_NEG_CELLS, EC3_PC_NS_CELLS),
    (EC5_PC_POS_CELLS, EC5_PC_NEG_CELLS, EC5_PC_NS_CELLS),
]
IN_CELLS = [
    (CA1_IN_POS_CELLS, CA1_IN_NEG_CELLS, CA1_IN_NS_CELLS), (CA3_IN_POS_CELLS, CA3_IN_NEG_CELLS, CA3_IN_NS_CELLS),
    (EC2_IN_POS_CELLS, EC2_IN_NEG_CELLS, EC2_IN_NS_CELLS), (EC3_IN_POS_CELLS, EC3_IN_NEG_CELLS, EC3_IN_NS_CELLS),
    (EC5_IN_POS_CELLS, EC5_IN_NEG_CELLS, EC5_IN_NS_CELLS),
]

PI_LABELS = ["0", "π", "2π", "3π", "4π"]
LEFT_X = (86, 367)
RIGHT_X = (423, 703)
PROP_Y = (30, 71)
SCAT_Y = (99, 219)
THETA = np.linspace(0, 4 * np.pi, 400)


def px_axes(fig, x0, x1, y0, y1):
    """Axes from a pixel box measured from the top-left corner."""
    return fig.add_axes([x0 / W, 1 - y1 / H, (x1 - x0) / W, (y1 - y0) / H])


def marker_size(r):
    d_px = 1.2 + 9.0 * np.asarray(r)
    return (d_px * 72.0 / 100.0) ** 2


def style_axes(ax):
    for side in ("top", "right"):
        ax.spines[side].set_visible(False)
    for side in ("left", "bottom"):
        ax.spines[side].set_color(AXIS)
        ax.spines[side].set_linewidth(1.0)
    ax.tick_params(direction="out", length=3, width=1.0, color=AXIS, labelcolor=TEXT,
                   labelsize=11.5, pad=1)
    ax.set_facecolor("none")


def draw_prop(ax, props, top, ticklabels):
    style_axes(ax)
    ax.plot(THETA, top * (1 + np.cos(THETA)) / 2, color=GRAY, lw=2.2, zorder=1, clip_on=False)
    centers = (np.arange(16) + 0.5) * np.pi / 4
    pos, neg, ns = props
    for vals, col in ((ns, YELLOW), (neg, BLUE), (pos, RED)):
        ax.plot(centers, list(vals) * 2, color=col, lw=2.6, zorder=3, solid_joinstyle="miter")
    ax.set_xlim(0, 4 * np.pi)
    ax.set_ylim(0, top)
    ax.set_xticks(np.arange(5) * np.pi)
    ax.set_xticklabels([])
    ax.set_yticks([float(t) for t in ticklabels])
    ax.set_yticklabels(ticklabels)


def draw_cells(ax, cells, lim):
    style_axes(ax)
    ax.plot(THETA, lim * np.cos(THETA), color=GRAY, lw=2.2, zorder=1)
    pos, neg, ns = cells
    for group, col in ((pos, RED), (neg, BLUE), (ns, YELLOW)):
        arr = np.array(group)
        x = arr[:, 0] * np.pi
        for shift in (0.0, 2 * np.pi):
            ax.scatter(x + shift, arr[:, 1], s=marker_size(arr[:, 2]), color=col,
                       linewidths=0, zorder=3, clip_on=False)
    ax.set_xlim(0, 4 * np.pi)
    ax.set_ylim(-lim, lim)
    ax.set_xticks(np.arange(5) * np.pi)
    ax.set_xticklabels(PI_LABELS)
    ax.set_yticks([-lim, 0, lim])
    ax.set_yticklabels([f"-{lim:g}", "0", f"{lim:g}"])


fig = plt.figure(figsize=(W / 100, H / 100), dpi=100)
overlay = fig.add_axes([0, 0, 1, 1], zorder=10)
overlay.set_xlim(0, W)
overlay.set_ylim(H, 0)
overlay.axis("off")

for i in range(5):
    off = i * ROW_STEP
    for side, (x0, x1) in enumerate((LEFT_X, RIGHT_X)):
        if side == 0:
            props, top, ticks, cells, lim, stats = (PC_PROPS[i], PC_PROP_TOP[i], PC_PROP_TICKS[i],
                                                     PC_CELLS[i], PC_SCORE_LIM[i], PC_STATS[i])
            title = "Principal cells"
        else:
            props, top, ticks, cells, lim, stats = (IN_PROPS[i], IN_PROP_TOP[i], IN_PROP_TICKS[i],
                                                     IN_CELLS[i], IN_SCORE_LIM[i], IN_STATS[i])
            title = "Interneurons"
        ax_p = px_axes(fig, x0, x1, PROP_Y[0] + off, PROP_Y[1] + off)
        draw_prop(ax_p, props, top, ticks)
        ax_s = px_axes(fig, x0, x1, SCAT_Y[0] + off, SCAT_Y[1] + off)
        draw_cells(ax_s, cells, lim)

        cx = (x0 + x1) / 2
        overlay.text(cx, 20 + off, title, ha="center", va="center", fontsize=11, color=TEXT)
        overlay.text(cx, 249 + off, "Preferred theta phase", ha="center", va="center",
                     fontsize=11, color=TEXT)
        if stats:
            overlay.text(x1, PROP_Y[1] + off + 12, stats, ha="right", va="center",
                         fontsize=11, color="#1a1a1a")
        if side == 0:
            overlay.text(28, 40 + off, "Proportion\nof cells", ha="center", va="center",
                         rotation=90, fontsize=10, color=TEXT, linespacing=1.25)
            overlay.text(37, 159 + off, "Speed score", ha="center", va="center",
                         rotation=90, fontsize=10, color=TEXT)

    overlay.text(1, 11 + off, LETTERS[i], ha="left", va="center", fontsize=15,
                 fontweight="bold", color="#111111")
    overlay.text(377, 16 + off, REGIONS[i], ha="left", va="center", fontsize=13, color="#111111")

# pos / neg / ns legend in the CA1 principal-cell panel
for label, col, y in (("pos", RED, 183), ("neg", BLUE, 197), ("ns", YELLOW, 211)):
    overlay.scatter([345], [y], s=(8 * 0.72) ** 2, color=col, linewidths=0)
    overlay.text(349, y, label, ha="left", va="center", fontsize=10, color=TEXT)

# R size legend
overlay.text(747, 1111, "R", ha="center", va="center", fontsize=10, color="#111111")
for r, y in ((0.7, 1139), (0.5, 1163), (0.3, 1188), (0.1, 1212)):
    overlay.scatter([736], [y], s=marker_size(r) * 0.6, color="#111111", linewidths=0)
    overlay.text(739, y, f"{r:g}", ha="left", va="center", fontsize=9.5, color="#111111")

fig.savefig("out.png", dpi=100)
